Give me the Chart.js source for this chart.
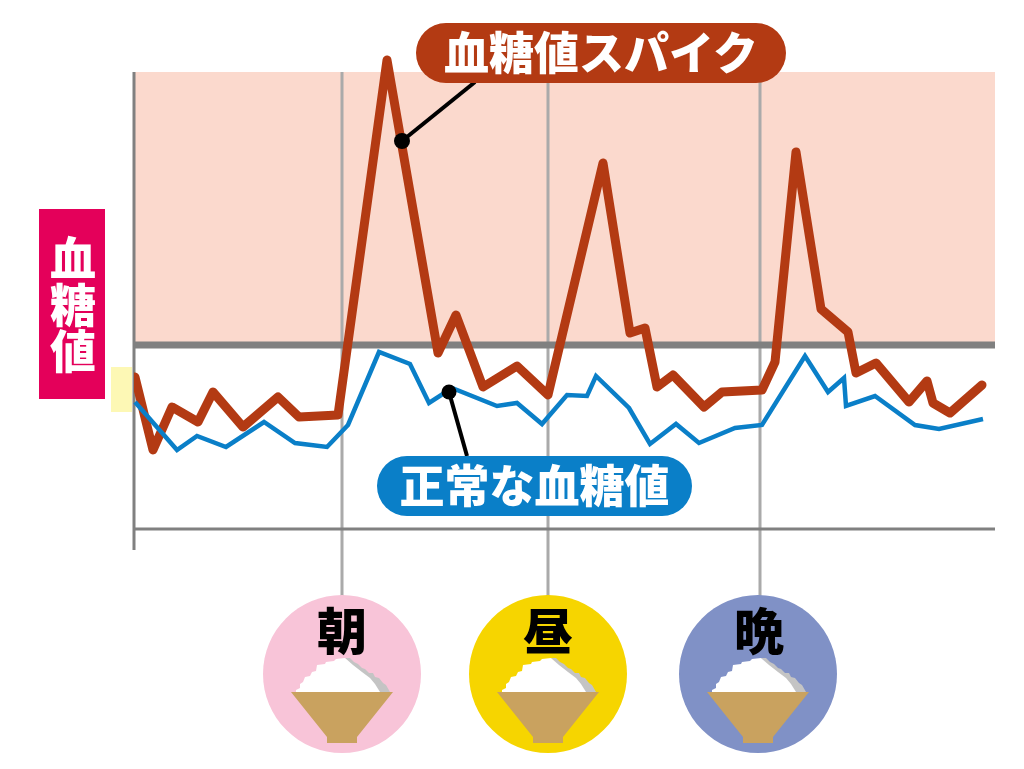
<!DOCTYPE html>
<html lang="ja">
<head>
<meta charset="utf-8">
<title>血糖値スパイク</title>
<script src="https://cdn.jsdelivr.net/npm/chart.js@4"></script>
<style>
  html, body { margin: 0; padding: 0; background: #fff; overflow: hidden; }
  #wrap { position: relative; width: 1024px; height: 769px; font-family: "Noto Sans CJK JP", sans-serif; font-weight: 900; }
  canvas { position: absolute; left: 0; top: 0; }
  .lbl { position: absolute; text-align: center; white-space: nowrap; }
  .pill { color: #fff; font-size: 45px; }
  #spike { left: 416px; top: 23px; width: 370px; height: 60px; line-height: 56px; border-radius: 30px; background: #b33a13; }
  #normal { left: 377px; top: 456px; width: 315px; height: 60px; line-height: 56px; border-radius: 30px; background: #0a7fc8; }
  #ylab { left: 39px; top: 209px; width: 66px; height: 190px; background: #e4005a; color: #fff; font-size: 46px; }
  #ylab span { position: absolute; left: 1px; width: 66px; line-height: 46px; }
  .meal { color: #000; font-size: 50px; line-height: 50px; width: 80px; top: 603px; }
</style>
</head>
<body>
<div id="wrap">
  <canvas id="c" width="1024" height="769"></canvas>
  <div class="lbl pill" id="spike">血糖値スパイク</div>
  <div class="lbl pill" id="normal">正常な血糖値</div>
  <div class="lbl" id="ylab"><span style="top:23px">血</span><span style="top:70px">糖</span><span style="top:116px">値</span></div>
  <div class="lbl meal" style="left:302px">朝</div>
  <div class="lbl meal" style="left:508px">昼</div>
  <div class="lbl meal" style="left:719px">晩</div>
</div>
<script>
// 値は図からの読み取り(x: 時間, y: 血糖値、単位は任意)
const SPIKE_X = [1, 19, 38, 64, 79, 109, 144, 165, 204, 253, 304, 322, 349, 383, 414, 469, 496, 511, 523, 539, 570, 588, 628, 641, 662, 687, 714, 722, 742, 775, 793, 799, 816, 848];
const SPIKE_Y = [152, 79, 122, 107, 137, 102, 132, 112, 114, 469, 176, 214, 142, 163, 134, 366, 196, 201, 142, 154, 122, 137, 139, 167, 377, 220, 197, 156, 166, 127, 148, 126, 116, 144];
const NORMAL_X = [1, 43, 63, 92, 130, 161, 193, 214, 245, 276, 295, 318, 363, 383, 408, 433, 453, 462, 495, 516, 542, 565, 601, 628, 671, 694, 710, 712, 741, 781, 805, 849];
const NORMAL_Y = [127, 79, 93, 82, 107, 86, 82, 104, 177, 165, 126, 141, 123, 126, 105, 134, 133, 153, 121, 85, 105, 86, 101, 104, 173, 137, 151, 123, 133, 104, 100, 110];
const MEAL_X = [208, 414, 626];
const MEAL_COLORS = ['#f8c4d8', '#f6d500', '#8091c6'];
const MEAL_CX = [342, 548, 758];
const THRESHOLD = 184;
const Y_MAX = 457, Y_MIN = -21, X_MAX = 861;

const GRAY = '#808080', MEAL_LINE = '#aaaaaa';
const toXY = (xs, ys) => xs.map((x, i) => ({ x, y: ys[i] }));

// ご飯茶碗(円の中心からの相対位置)
const BOWL = [[-51, 18], [51, 18], [15, 63], [15, 69], [-15, 69], [-15, 63]];
const RICE = [[-46, 18], [-46, 16], [-42, 14], [-42, 10], [-39, 8], [-37, 3], [-32, 2], [-30, -2], [-26, -3], [-25, -9], [-17, -10], [-16, -12], [-8, -13], [-6, -15], [3, -16], [11, -9], [20, -2], [28, 4], [33, 10], [38, 18]];
const RICE_SHADE = [[3, -16], [8, -16], [12, -12], [16, -10], [20, -6], [23, -5], [27, -1], [31, -1], [33, 3], [37, 4], [41, 9], [44, 11], [48, 18], [36, 18]];

function poly(ctx, cx, cy, pts, color) {
  ctx.fillStyle = color;
  ctx.beginPath();
  pts.forEach(([dx, dy], i) => i ? ctx.lineTo(cx + dx, cy + dy) : ctx.moveTo(cx + dx, cy + dy));
  ctx.closePath();
  ctx.fill();
}

const backdrop = {
  id: 'backdrop',
  beforeDatasetsDraw(chart) {
    const { ctx, chartArea: a, scales: { x, y } } = chart;
    const y0 = y.getPixelForValue(0), yT = y.getPixelForValue(THRESHOLD);
    ctx.save();
    // 目標範囲を超える帯
    ctx.fillStyle = '#fbd9cd';
    ctx.fillRect(a.left, a.top, a.right - a.left, yT - a.top);
    // 食事の縦線
    ctx.strokeStyle = MEAL_LINE;
    ctx.lineWidth = 3;
    MEAL_X.forEach(m => {
      const px = x.getPixelForValue(m);
      ctx.beginPath(); ctx.moveTo(px, a.top); ctx.lineTo(px, 600); ctx.stroke();
    });
    // 軸
    ctx.strokeStyle = GRAY;
    ctx.beginPath(); ctx.moveTo(a.left, a.top); ctx.lineTo(a.left, a.bottom); ctx.stroke();
    ctx.beginPath(); ctx.moveTo(a.left, y0); ctx.lineTo(a.right, y0); ctx.stroke();
    ctx.lineWidth = 7;
    ctx.beginPath(); ctx.moveTo(a.left, yT); ctx.lineTo(a.right, yT); ctx.stroke();
    // 軸左の黄色
    ctx.fillStyle = '#fdf8b5';
    ctx.fillRect(111, 367, 21, 45);
    // 食事アイコン
    MEAL_CX.forEach((cx, i) => {
      const cy = 674;
      ctx.fillStyle = MEAL_COLORS[i];
      ctx.beginPath(); ctx.arc(cx, cy, 79, 0, Math.PI * 2); ctx.fill();
      poly(ctx, cx, cy, RICE_SHADE, '#c4c4c4');
      poly(ctx, cx, cy, RICE, '#ffffff');
      poly(ctx, cx, cy, BOWL, '#c9a25f');
    });
    ctx.restore();
  }
};

new Chart('c', {
  type: 'line',
  data: {
    datasets: [
      { data: toXY([268, 341], [388, 447]), borderColor: '#000', borderWidth: 4, pointRadius: [8, 0], pointBackgroundColor: '#000', pointBorderWidth: 0, order: 0, clip: false },
      { data: toXY([315, 333], [137, 73]), borderColor: '#000', borderWidth: 4, pointRadius: [7.5, 0], pointBackgroundColor: '#000', pointBorderWidth: 0, order: 0, clip: false },
      { label: '正常な血糖値', data: toXY(NORMAL_X, NORMAL_Y), borderColor: '#0a7fc8', borderWidth: 4.5, pointRadius: 0, tension: 0, borderJoinStyle: 'miter', order: 1, clip: { left: 2, top: 30, right: 30, bottom: 30 } },
      { label: '血糖値スパイク', data: toXY(SPIKE_X, SPIKE_Y), borderColor: '#b33a13', borderWidth: 9, pointRadius: 0, tension: 0, borderJoinStyle: 'round', borderCapStyle: 'round', order: 2, clip: { left: 0, top: 30, right: 30, bottom: 30 } }
    ]
  },
  options: {
    responsive: false,
    animation: false,
    layout: { padding: { left: 134, right: 29, top: 72, bottom: 219 } },
    plugins: { legend: { display: false }, tooltip: { enabled: false } },
    scales: {
      x: { type: 'linear', min: 0, max: X_MAX, display: false },
      y: { type: 'linear', min: Y_MIN, max: Y_MAX, display: false }
    }
  },
  plugins: [backdrop]
});
</script>
</body>
</html>
